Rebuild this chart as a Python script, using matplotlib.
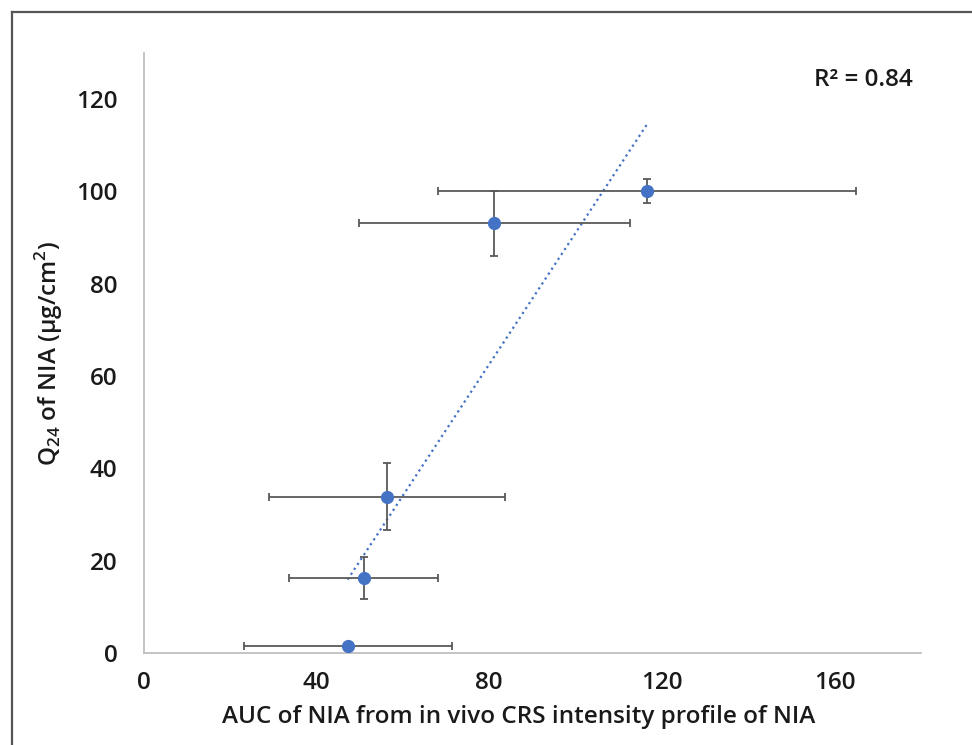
import numpy as np
import matplotlib.pyplot as plt
from matplotlib.lines import Line2D

plt.rcParams['font.family'] = ['Open Sans', 'DejaVu Sans']

# datos
auc = [47.2, 50.9, 56.3, 81.2, 116.6]
auc_err = [24.1, 17.2, 27.4, 31.3, 48.4]
q24 = [1.5, 16.2, 33.9, 93.1, 100.1]
q24_err = [0.0, 4.5, 7.3, 7.0, 2.5]
xticks = [0, 40, 80, 120, 160]
yticks = [0, 20, 40, 60, 80, 100, 120]

peso = 'semibold'

fig = plt.figure(figsize=(9.72, 7.45), dpi=100)
ax = fig.add_axes([0.148, 0.1235, 0.7995, 0.8054])

# LINEA DE TENDENCIA
pend, inter = np.polyfit(auc, q24, 1)
xs = np.array([min(auc), max(auc)])
r2 = np.corrcoef(auc, q24)[0, 1] ** 2
ax.plot(xs, pend * xs + inter, linestyle=':', color='#4472C4', linewidth=1.6, zorder=2)

# PUNTOS CON BARRAS DE ERROR
ax.errorbar(auc, q24, xerr=auc_err, yerr=q24_err, fmt='o', color='#4472C4',
            markersize=8.5, ecolor='#595959', elinewidth=1.3, capsize=3,
            capthick=1.3, zorder=3)

ax.text(0.99, 0.955, 'R² = %.2f' % r2, transform=ax.transAxes, ha='right',
        va='center', fontsize=17.5, fontweight=peso, color='#1a1a1a')

ax.set_xlim(0, 180)
ax.set_ylim(0, 130)
ax.set_xticks(xticks)
ax.set_yticks(yticks)
ax.tick_params(length=0, labelsize=17.5, labelcolor='#1a1a1a')
ax.tick_params(axis='y', pad=19)
ax.tick_params(axis='x', pad=13)
for lab in ax.get_xticklabels() + ax.get_yticklabels():
    lab.set_fontweight(peso)

for s in ['top', 'right']:
    ax.spines[s].set_visible(False)
for s in ['left', 'bottom']:
    ax.spines[s].set_color('#BFBFBF')
    ax.spines[s].set_linewidth(1.3)

ax.set_xlabel('AUC of NIA from in vivo CRS intensity profile of NIA', fontsize=17.5,
              fontweight=peso, labelpad=7, color='#1a1a1a')
ax.xaxis.label.set_x(0.482)
ax.set_ylabel(r'Q$_{\mathregular{24}}$ of NIA (μg/cm$^{\mathregular{2}}$)', fontsize=17.5,
              fontweight=peso, labelpad=8, color='#1a1a1a')

# MARCO DE LA IMAGEN
fig.add_artist(Line2D([11.5 / 972, 1], [1 - 11.5 / 745] * 2, transform=fig.transFigure,
                      color='#555555', linewidth=1.6))
fig.add_artist(Line2D([11.5 / 972] * 2, [0, 1 - 11.5 / 745], transform=fig.transFigure,
                      color='#555555', linewidth=1.6))

fig.savefig('out.png', dpi=100)
